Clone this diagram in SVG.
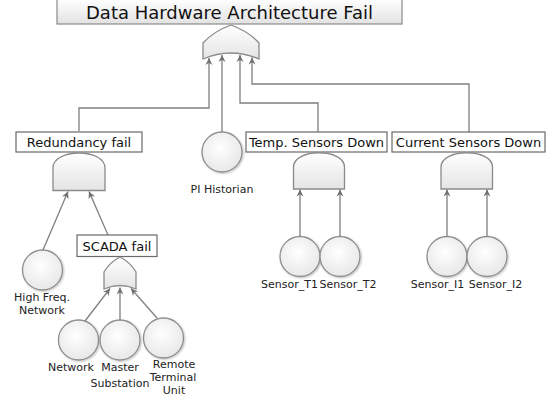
<svg xmlns="http://www.w3.org/2000/svg" width="551" height="402" viewBox="0 0 551 402">
  <defs>
    <linearGradient id="gateFill" x1="0" y1="0" x2="0" y2="1">
      <stop offset="0" stop-color="#ffffff"/>
      <stop offset="1" stop-color="#e4e4e4"/>
    </linearGradient>
    <linearGradient id="titleFill" x1="0" y1="0" x2="0" y2="1">
      <stop offset="0" stop-color="#ffffff"/>
      <stop offset="1" stop-color="#e2e2e2"/>
    </linearGradient>
    <radialGradient id="eventFill" cx="0.45" cy="0.4" r="0.65">
      <stop offset="0" stop-color="#ffffff"/>
      <stop offset="1" stop-color="#e6e6e6"/>
    </radialGradient>
    <marker id="arrow" viewBox="-8 -4 9 8" refX="0" refY="0" markerWidth="9" markerHeight="8" markerUnits="userSpaceOnUse" orient="auto">
      <path d="M0,0 L-7,-3.5 L-4.8,0 L-7,3.5 Z" fill="#6f6f6f"/>
    </marker>
    <filter id="soft" x="-20%" y="-20%" width="150%" height="150%">
      <feGaussianBlur in="SourceAlpha" stdDeviation="1"/>
      <feOffset dx="1" dy="1" result="b"/>
      <feComponentTransfer><feFuncA type="linear" slope="0.25"/></feComponentTransfer>
      <feMerge><feMergeNode/><feMergeNode in="SourceGraphic"/></feMerge>
    </filter>
  </defs>
  <style>
    .box { fill: #ffffff; stroke: #6a6a6a; stroke-width: 1.2; }
    .gate { fill: url(#gateFill); stroke: #8a8a8a; stroke-width: 1.3; }
    .event { fill: url(#eventFill); stroke: #8e8e8e; stroke-width: 1.3; filter: url(#soft); }
    .boxlabel { font-family: "DejaVu Sans", Verdana, sans-serif; font-size: 13px; fill: #111; text-anchor: middle; }
    .label { font-family: "DejaVu Sans", Verdana, sans-serif; font-size: 11px; fill: #222; text-anchor: middle; }
    .conn { fill: none; stroke: #7f7f7f; stroke-width: 1.3; }
    .arr { marker-end: url(#arrow); }
  </style>

  <rect width="551" height="402" fill="#ffffff"/>

  <!-- connectors -->
  <g id="connectors">
    <path class="conn arr" d="M79,131 V108 H209 V58"/>
    <path class="conn arr" d="M222,132 V55"/>
    <path class="conn arr" d="M318,132 V103 H240 V55"/>
    <path class="conn arr" d="M469,132 V84 H252 V57.5"/>
    <path class="conn arr" d="M43,250 L68,191.5"/>
    <path class="conn arr" d="M108,235 L89,191.5"/>
    <path class="conn arr" d="M300,237 V189.5"/>
    <path class="conn arr" d="M340,237 V189.5"/>
    <path class="conn arr" d="M447,237 V189.5"/>
    <path class="conn arr" d="M487,237 V189.5"/>
    <path class="conn arr" d="M85,321 L110,288.5"/>
    <path class="conn arr" d="M120,320 V287.5"/>
    <path class="conn arr" d="M157,318 L131,288.5"/>
  </g>

  <!-- top event -->
  <g id="top-event">
    <rect x="57" y="-1" width="345" height="25" fill="url(#titleFill)" stroke="#8a8a8a" stroke-width="1.2"/>
    <text x="229.5" y="19" font-family="'DejaVu Sans', Verdana, sans-serif" font-size="18" fill="#111" text-anchor="middle">Data Hardware Architecture Fail</text>
  </g>
  <g id="top-or-gate">
    <path class="gate" d="M203,59 V43 Q214,31 231,25 Q248,31 259,43 V59 Q231,47 203,59 Z"/>
  </g>

  <!-- redundancy branch -->
  <g id="redundancy-fail">
    <rect class="box" x="16" y="132" width="126" height="20"/>
    <text class="boxlabel" x="79" y="147">Redundancy fail</text>
  </g>
  <g id="redundancy-and-gate">
    <path class="gate" d="M53,190.5 V168 C53,148 105,148 105,168 V190.5 Z"/>
  </g>
  <g id="high-freq-network">
    <circle class="event" cx="42.5" cy="270" r="20"/>
    <text class="label" x="42" y="301">High Freq.</text>
    <text class="label" x="42" y="313.5">Network</text>
  </g>
  <g id="scada-fail">
    <rect class="box" x="77" y="235" width="80" height="21.5"/>
    <text class="boxlabel" x="117" y="251">SCADA fail</text>
  </g>
  <g id="scada-or-gate">
    <path class="gate" d="M104,289 V272 Q110,262 120,257 Q130,262 136,272 V289 Q120,282 104,289 Z"/>
  </g>
  <g id="network">
    <circle class="event" cx="78.5" cy="340" r="20"/>
    <text class="label" x="71" y="371">Network</text>
  </g>
  <g id="master-substation">
    <circle class="event" cx="120" cy="340" r="20"/>
    <text class="label" x="120" y="371">Master</text>
    <text class="label" x="120" y="386.5">Substation</text>
  </g>
  <g id="remote-terminal-unit">
    <circle class="event" cx="163.5" cy="338" r="20"/>
    <text class="label" x="174" y="368">Remote</text>
    <text class="label" x="173" y="381">Terminal</text>
    <text class="label" x="174" y="393.5">Unit</text>
  </g>

  <!-- PI historian -->
  <g id="pi-historian">
    <circle class="event" cx="222" cy="152" r="20"/>
    <text class="label" x="222" y="193">PI Historian</text>
  </g>

  <!-- temperature sensors branch -->
  <g id="temp-sensors-down">
    <rect class="box" x="246" y="132" width="141" height="20"/>
    <text class="boxlabel" x="316.5" y="146.5">Temp. Sensors Down</text>
  </g>
  <g id="temp-and-gate">
    <path class="gate" d="M293.5,189 V167 C293.5,148 344.5,148 344.5,167 V189 Z"/>
  </g>
  <g id="sensor-t1">
    <circle class="event" cx="300" cy="256.5" r="20"/>
    <text class="label" x="289.5" y="288">Sensor_T1</text>
  </g>
  <g id="sensor-t2">
    <circle class="event" cx="340" cy="256.5" r="20"/>
    <text class="label" x="348" y="288">Sensor_T2</text>
  </g>

  <!-- current sensors branch -->
  <g id="current-sensors-down">
    <rect class="box" x="392" y="132" width="153" height="20"/>
    <text class="boxlabel" x="468.5" y="146.5">Current Sensors Down</text>
  </g>
  <g id="current-and-gate">
    <path class="gate" d="M441,189 V167 C441,148 492.5,148 492.5,167 V189 Z"/>
  </g>
  <g id="sensor-i1">
    <circle class="event" cx="447" cy="256.5" r="20"/>
    <text class="label" x="437.5" y="288">Sensor_I1</text>
  </g>
  <g id="sensor-i2">
    <circle class="event" cx="487" cy="256.5" r="20"/>
    <text class="label" x="495.5" y="288">Sensor_I2</text>
  </g>
</svg>
